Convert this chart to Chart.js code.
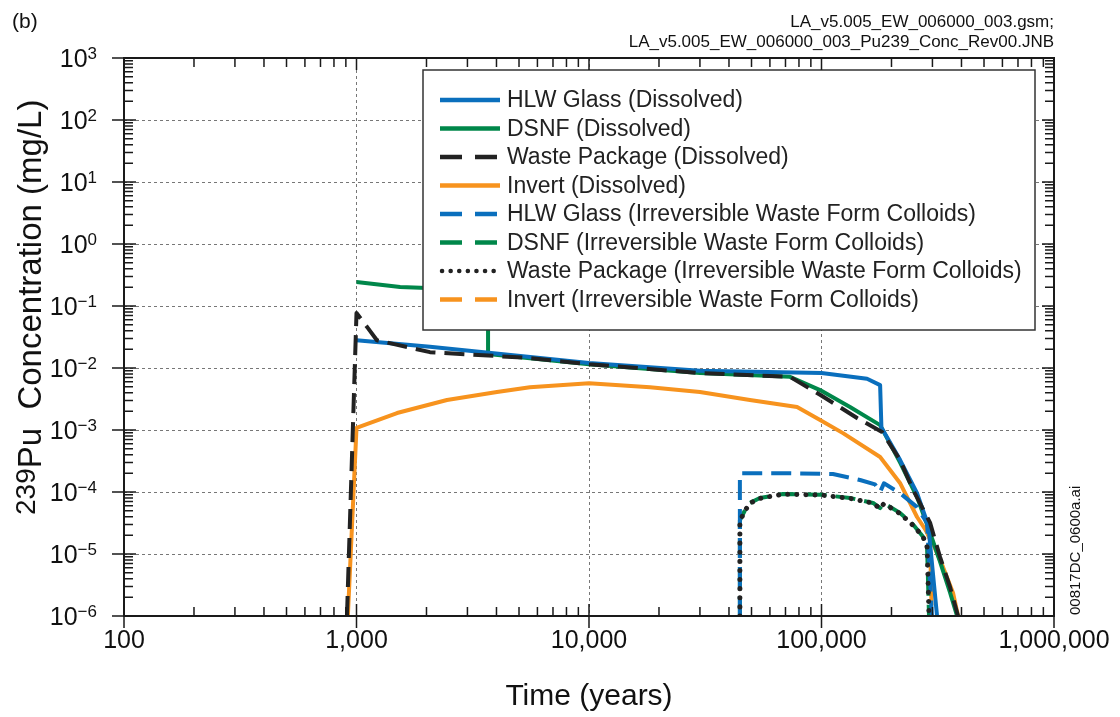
<!DOCTYPE html>
<html>
<head>
<meta charset="utf-8">
<script src="https://cdn.jsdelivr.net/npm/chart.js@4.4.0/dist/chart.umd.min.js"></script>
<style>
    html, body { margin: 0; padding: 0; background: #fff; }
    #wrap { width: 1120px; height: 717px; }
</style>
</head>
<body>
<div id="wrap"><canvas id="concChart" width="1120" height="717"></canvas></div>
<script>
// Axis ticks
const xMajorTicks = [100, 1000, 10000, 100000, 1000000];
const xTickLabels = ['100', '1,000', '10,000', '100,000', '1,000,000'];
const yMajorTicks = [1e-6, 1e-5, 1e-4, 1e-3, 1e-2, 1e-1, 1e0, 1e1, 1e2, 1e3];
const yTickExponents = ['\u22126', '\u22125', '\u22124', '\u22123', '\u22122', '\u22121', '0', '1', '2', '3'];

// Series: time (years) and 239Pu concentration (mg/L)
const hlwDissolvedT = [1000, 2070, 10000, 30000, 100000, 157000, 178700, 181000, 217600, 257600, 288000, 314000];
const hlwDissolvedC = [0.028, 0.022, 0.012, 0.009, 0.0083, 0.0067, 0.0053, 0.0011, 3.3e-4, 9.6e-5, 2.9e-5, 1e-6];

const dsnfDissolvedT = [1000, 1540, 3680, 3680, 10000, 30000, 73200, 98600, 132600, 178700, 217600, 257600, 293000, 323600, 357000, 383000];
const dsnfDissolvedC = [0.244, 0.202, 0.18, 0.0168, 0.0115, 0.0083, 0.0072, 0.0044, 0.00235, 0.0012, 3.0e-4, 8.3e-5, 2.2e-5, 7.5e-6, 2.4e-6, 1e-6];

const wpDissolvedT = [910, 1000, 1120, 1224, 2070, 5570, 10000, 30000, 73200, 98600, 142200, 182100, 217600, 247700, 293000, 323600, 357000, 386600];
const wpDissolvedC = [1e-6, 0.077, 0.044, 0.028, 0.018, 0.0145, 0.0115, 0.0083, 0.0072, 0.0037, 0.00156, 9.3e-4, 3.3e-4, 1.08e-4, 3.2e-5, 8.9e-6, 2.94e-6, 1e-6];

const invertDissolvedT = [918, 1000, 1494, 2450, 4020, 5570, 10000, 18300, 30000, 49200, 78500, 98600, 123700, 178700, 217600, 257600, 293000, 333000, 368000, 386600];
const invertDissolvedC = [1e-6, 0.00108, 0.00188, 0.00305, 0.0041, 0.0049, 0.0057, 0.0049, 0.0041, 0.00305, 0.00235, 0.00145, 8.9e-4, 3.67e-4, 1.4e-4, 3.95e-5, 1.9e-5, 6.2e-6, 2.35e-6, 1e-6];

const hlwColloidT = [44560, 44560, 73200, 112000, 146500, 169800, 178700, 185600, 217600, 257600, 284500, 298500];
const hlwColloidC = [1e-6, 2.0e-4, 2.0e-4, 1.95e-4, 1.56e-4, 1.33e-4, 1.0e-4, 1.38e-4, 9.6e-5, 5.7e-5, 3.16e-5, 1e-6];

const dsnfColloidT = [44560, 44560, 46900, 49200, 54300, 68200, 100500, 132600, 166700, 178700, 185600, 217600, 247700, 273300, 284500, 290000];
const dsnfColloidC = [1e-6, 3.5e-5, 5.1e-5, 6.65e-5, 8.0e-5, 9.3e-5, 9.0e-5, 8.0e-5, 6.65e-5, 5.5e-5, 6.6e-5, 4.6e-5, 3.0e-5, 1.9e-5, 1.3e-5, 1e-6];

const wpColloidT = [44560, 44560, 46900, 49200, 54300, 68200, 100500, 132600, 166700, 178700, 185600, 217600, 247700, 273300, 284500, 290000];
const wpColloidC = [1e-6, 3.4e-5, 5.0e-5, 6.6e-5, 7.9e-5, 9.2e-5, 8.9e-5, 7.9e-5, 6.6e-5, 5.4e-5, 6.5e-5, 4.5e-5, 2.9e-5, 1.9e-5, 1.3e-5, 1e-6];

const invertColloidT = [279000, 293000, 298000];
const invertColloidC = [2.6e-5, 1.7e-5, 1e-6];

const seriesLabels = [
    'HLW Glass (Dissolved)',
    'DSNF (Dissolved)',
    'Waste Package (Dissolved)',
    'Invert (Dissolved)',
    'HLW Glass (Irreversible Waste Form Colloids)',
    'DSNF (Irreversible Waste Form Colloids)',
    'Waste Package (Irreversible Waste Form Colloids)',
    'Invert (Irreversible Waste Form Colloids)'
];

const colors = {
    blue: '#0a6fbd',
    green: '#00874a',
    black: '#222222',
    orange: '#f7931e'
};

const FONT = '"Liberation Sans", Arial, Helvetica, sans-serif';
const DASH = [20, 9];
const DOT = [0.1, 9];

function toPoints(ts, cs) {
    return ts.map((t, i) => ({ x: t, y: cs[i] }));
}

function makeSet(i, ts, cs, color, dash, order) {
    return {
        label: seriesLabels[i],
        data: toPoints(ts, cs),
        borderColor: color,
        backgroundColor: color,
        borderWidth: dash === DOT ? 5 : 4,
        borderDash: dash,
        borderCapStyle: dash === DOT ? 'round' : 'butt',
        borderJoinStyle: 'round',
        pointRadius: 0,
        tension: 0,
        fill: false,
        order: order
    };
}

const datasets = [
    makeSet(0, hlwDissolvedT, hlwDissolvedC, colors.blue, [], 5),
    makeSet(1, dsnfDissolvedT, dsnfDissolvedC, colors.green, [], 6),
    makeSet(2, wpDissolvedT, wpDissolvedC, colors.black, DASH, 1),
    makeSet(3, invertDissolvedT, invertDissolvedC, colors.orange, [], 8),
    makeSet(4, hlwColloidT, hlwColloidC, colors.blue, DASH, 3),
    makeSet(5, dsnfColloidT, dsnfColloidC, colors.green, DASH, 4),
    makeSet(6, wpColloidT, wpColloidC, colors.black, DOT, 2),
    makeSet(7, invertColloidT, invertColloidC, colors.orange, DASH, 7)
];

// Legend box drawn inside the plot, above the lines
function drawLegend(chart) {
    const ctx = chart.ctx;
    const box = { left: 423, top: 70, right: 1035, bottom: 330 };
    ctx.save();
    ctx.fillStyle = '#fff';
    ctx.fillRect(box.left, box.top, box.right - box.left, box.bottom - box.top);
    ctx.strokeStyle = '#333';
    ctx.lineWidth = 1.5;
    ctx.strokeRect(box.left, box.top, box.right - box.left, box.bottom - box.top);

    ctx.font = '23px ' + FONT;
    ctx.textBaseline = 'middle';
    ctx.textAlign = 'left';
    chart.data.datasets.forEach((ds, i) => {
        const y = box.top + 30 + i * 28.5;
        ctx.save();
        ctx.strokeStyle = ds.borderColor;
        ctx.lineWidth = 4.5;
        ctx.lineCap = ds.borderCapStyle;
        let x1 = 440, x2 = 500;
        if (ds.borderDash === DASH) {
            ctx.setLineDash([22, 13]);
            x2 = 497;
        } else if (ds.borderDash === DOT) {
            ctx.setLineDash([0.1, 8.5]);
            x1 = 442;
        }
        ctx.beginPath();
        ctx.moveTo(x1, y);
        ctx.lineTo(x2, y);
        ctx.stroke();
        ctx.restore();
        ctx.fillStyle = '#222';
        ctx.fillText(ds.label, 507, y + 1);
    });
    ctx.restore();
}

const framePlugin = {
    id: 'frame',
    afterDatasetsDraw(chart) {
        drawLegend(chart);
    },
    afterDraw(chart) {
        const { ctx, chartArea: a } = chart;
        const xs = chart.scales.x;
        const ys = chart.scales.y;
        ctx.save();

        // frame
        ctx.strokeStyle = '#1a1a1a';
        ctx.lineWidth = 2;
        ctx.strokeRect(a.left, a.top, a.right - a.left, a.bottom - a.top);

        // tick marks on all four sides
        ctx.lineWidth = 1.5;
        ctx.beginPath();
        xMajorTicks.forEach((v, i) => {
            const px = xs.getPixelForValue(v);
            ctx.moveTo(px, a.bottom + 12);
            ctx.lineTo(px, a.bottom - 12);
            ctx.moveTo(px, a.top);
            ctx.lineTo(px, a.top + 12);
            if (i < xMajorTicks.length - 1) {
                for (let k = 2; k <= 9; k++) {
                    const mx = xs.getPixelForValue(v * k);
                    ctx.moveTo(mx, a.bottom);
                    ctx.lineTo(mx, a.bottom - 9);
                    ctx.moveTo(mx, a.top);
                    ctx.lineTo(mx, a.top + 9);
                }
            }
        });
        yMajorTicks.forEach((v, i) => {
            const py = ys.getPixelForValue(v);
            ctx.moveTo(a.left - 12, py);
            ctx.lineTo(a.left + 12, py);
            ctx.moveTo(a.right, py);
            ctx.lineTo(a.right - 12, py);
            if (i < yMajorTicks.length - 1) {
                for (let k = 2; k <= 9; k++) {
                    const my = ys.getPixelForValue(v * k);
                    ctx.moveTo(a.left, my);
                    ctx.lineTo(a.left + 9, my);
                    ctx.moveTo(a.right, my);
                    ctx.lineTo(a.right - 9, my);
                }
            }
        });
        ctx.stroke();

        ctx.fillStyle = '#111';

        // x tick labels
        ctx.font = '25px ' + FONT;
        ctx.textAlign = 'center';
        ctx.textBaseline = 'middle';
        xMajorTicks.forEach((v, i) => {
            ctx.fillText(xTickLabels[i], xs.getPixelForValue(v), a.bottom + 25);
        });

        // y tick labels: 10 with superscript exponent
        ctx.textAlign = 'left';
        ctx.textBaseline = 'alphabetic';
        yMajorTicks.forEach((v, i) => {
            const py = ys.getPixelForValue(v);
            ctx.font = '17px ' + FONT;
            const we = ctx.measureText(yTickExponents[i]).width;
            ctx.font = '25px ' + FONT;
            const wb = ctx.measureText('10').width;
            const right = a.left - 27;
            ctx.fillText('10', right - we - wb, py + 9);
            ctx.font = '17px ' + FONT;
            ctx.fillText(yTickExponents[i], right - we, py + 1);
        });

        // x axis title
        ctx.font = '30px ' + FONT;
        ctx.textAlign = 'center';
        ctx.fillText('Time (years)', (a.left + a.right) / 2, 705);

        // y axis title with 239 superscript
        ctx.save();
        ctx.translate(41, 515);
        ctx.rotate(-Math.PI / 2);
        ctx.textAlign = 'left';
        ctx.font = '28px ' + FONT;
        ctx.fillText('239', 0, -6);
        const w239 = ctx.measureText('239').width;
        ctx.font = '33px ' + FONT;
        ctx.fillText('Pu  Concentration (mg/L)', w239, 0);
        ctx.restore();

        // panel letter and file notes
        ctx.font = '21px ' + FONT;
        ctx.textAlign = 'left';
        ctx.fillText('(b)', 12, 28);
        ctx.font = '17px ' + FONT;
        ctx.textAlign = 'right';
        ctx.fillText('LA_v5.005_EW_006000_003.gsm;', a.right, 27);
        ctx.fillText('LA_v5.005_EW_006000_003_Pu239_Conc_Rev00.JNB', a.right, 47);

        ctx.save();
        ctx.translate(1080, 615);
        ctx.rotate(-Math.PI / 2);
        ctx.textAlign = 'left';
        ctx.font = '15px ' + FONT;
        ctx.fillText('00817DC_0600a.ai', 0, 0);
        ctx.restore();

        ctx.restore();
    }
};

const gridOpts = {
    display: true,
    drawTicks: false,
    color: '#777',
    lineWidth: 1
};

new Chart(document.getElementById('concChart').getContext('2d'), {
    type: 'line',
    data: { datasets: datasets },
    options: {
        responsive: false,
        animation: false,
        events: [],
        layout: { padding: { left: 124, right: 66, top: 58, bottom: 101 } },
        plugins: {
            legend: { display: false },
            tooltip: { enabled: false },
            title: { display: false }
        },
        scales: {
            x: {
                type: 'logarithmic',
                min: 100,
                max: 1000000,
                grid: gridOpts,
                border: { display: false, dash: [3, 3] },
                ticks: { display: false },
                afterBuildTicks: (scale) => { scale.ticks = xMajorTicks.map(v => ({ value: v })); },
                afterFit: (scale) => { scale.height = 0; }
            },
            y: {
                type: 'logarithmic',
                min: 1e-6,
                max: 1e3,
                grid: gridOpts,
                border: { display: false, dash: [3, 3] },
                ticks: { display: false },
                afterBuildTicks: (scale) => { scale.ticks = yMajorTicks.map(v => ({ value: v })); },
                afterFit: (scale) => { scale.width = 0; }
            }
        }
    },
    plugins: [framePlugin]
});
</script>
</body>
</html>
